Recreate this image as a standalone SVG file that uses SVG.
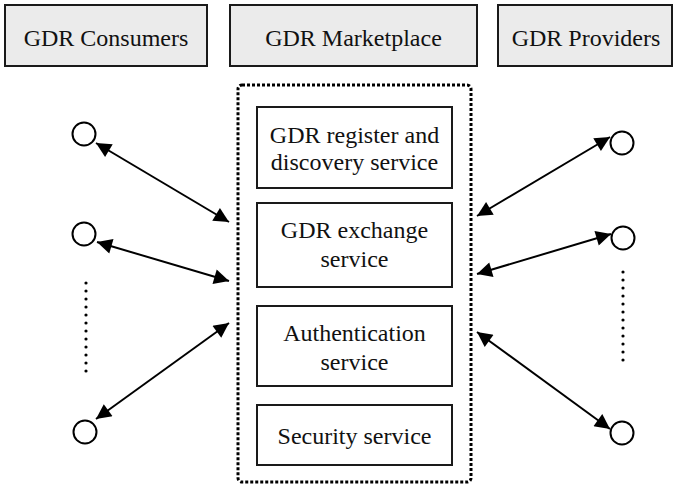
<svg xmlns="http://www.w3.org/2000/svg" width="674" height="488" viewBox="0 0 674 488">
<style>
.hdr{fill:#ebebeb;stroke:#1a1a1a;stroke-width:2}
.svc{fill:#fff;stroke:#1a1a1a;stroke-width:2}
.t{font-family:'Liberation Serif','Times New Roman',serif;font-size:24px;fill:#111;text-anchor:middle}
.end{fill:#fff;stroke:#000;stroke-width:2}
.arr{stroke:#000;stroke-width:2;fill:none;marker-start:url(#ah);marker-end:url(#ah)}
.dots{stroke:#000;stroke-width:3.2;stroke-linecap:round;stroke-dasharray:0 8;fill:none}
</style>
<defs>
<marker id="ah" viewBox="0 0 10 10" refX="10" refY="5" markerUnits="userSpaceOnUse" markerWidth="19" markerHeight="15" orient="auto-start-reverse">
<path d="M0,0 L10,5 L0,10 z" fill="#000"/>
</marker>
</defs>
<rect width="674" height="488" fill="#fff"/>
<g id="consumers"><rect class="hdr" x="5" y="5" width="202" height="61"/><text class="t" x="106" y="46">GDR Consumers</text></g>
<g id="marketplace"><rect class="hdr" x="230" y="5" width="247" height="61"/><text class="t" x="353.5" y="46">GDR Marketplace</text></g>
<g id="providers"><rect class="hdr" x="498" y="5" width="174" height="61"/><text class="t" x="586" y="46">GDR Providers</text></g>
<g id="marketplace-box"><rect x="238" y="85" width="233" height="397" rx="4" fill="none" stroke="#000" stroke-width="3" stroke-dasharray="3 2"/></g>
<g id="register"><rect class="svc" x="257" y="107" width="195" height="81"/><text class="t" x="354.5" y="143">GDR register and</text><text class="t" x="354.5" y="170">discovery service</text></g>
<g id="exchange"><rect class="svc" x="257" y="203" width="195" height="84"/><text class="t" x="354.5" y="238">GDR exchange</text><text class="t" x="354.5" y="267">service</text></g>
<g id="auth"><rect class="svc" x="257" y="306" width="195" height="80"/><text class="t" x="354.5" y="341">Authentication</text><text class="t" x="354.5" y="370">service</text></g>
<g id="security"><rect class="svc" x="257" y="405" width="195" height="60"/><text class="t" x="354.5" y="444">Security service</text></g>
<g id="consumer1"><circle class="end" cx="84" cy="134" r="11.5"/></g>
<g id="consumer2"><circle class="end" cx="84" cy="234" r="11.5"/></g>
<g id="consumer3"><circle class="end" cx="85" cy="432" r="11.5"/></g>
<g id="provider1"><circle class="end" cx="622" cy="143" r="11.5"/></g>
<g id="provider2"><circle class="end" cx="623" cy="238" r="11.5"/></g>
<g id="provider3"><circle class="end" cx="622" cy="433" r="11.5"/></g>
<g id="connectors">
<line class="arr" x1="96" y1="143" x2="229" y2="222"/>
<line class="arr" x1="97" y1="242" x2="229" y2="281"/>
<line class="arr" x1="96" y1="419" x2="229" y2="323"/>
<line class="arr" x1="610" y1="137" x2="477" y2="216"/>
<line class="arr" x1="611" y1="234" x2="477" y2="274"/>
<line class="arr" x1="477" y1="332" x2="610" y2="429"/>
<line class="dots" x1="86" y1="283" x2="86" y2="379"/>
<line class="dots" x1="623" y1="272" x2="623" y2="368"/>
</g>
</svg>
